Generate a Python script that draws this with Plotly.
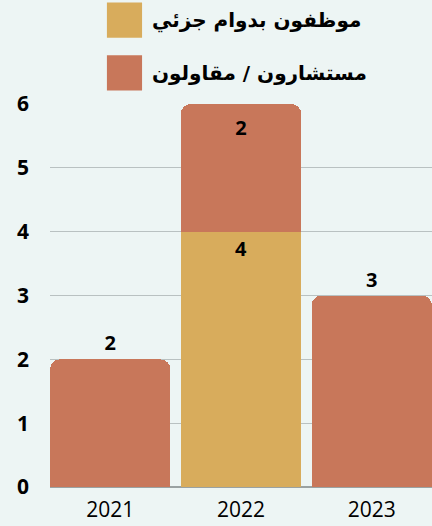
import plotly.graph_objects as go

years = ["2021", "2022", "2023"]
part_time = [0, 4, 0]
contractors = [2, 2, 3]
series_names = ["موظفون بدوام جزئي", "مستشارون / مقاولون"]
series_colors = ["#D8AC5C", "#C8775A"]

bg = "#EDF5F4"


def labels(vals):
    return [str(v) if v else "" for v in vals]


label_font = dict(family="Open Sans", size=20, color="black", weight="bold")

fig = go.Figure()
fig.add_trace(go.Bar(
    x=years, y=part_time, name=series_names[0],
    marker=dict(color=series_colors[0], line=dict(width=0)),
    text=labels(part_time), textposition="inside", insidetextanchor="end",
    textfont=label_font, constraintext="none",
    showlegend=False,
))
fig.add_trace(go.Bar(
    x=years, y=contractors, name=series_names[1],
    marker=dict(color=series_colors[1], line=dict(width=0)),
    text=labels(contractors), textposition=["outside", "inside", "outside"],
    insidetextanchor="end", textfont=label_font, constraintext="none",
    cliponaxis=False, showlegend=False,
))

# hand-drawn legend with big swatches (paper coords, plot area 104..487 px tall)
rows_y = [1.219, 1.081]
for name, color, yc in zip(series_names, series_colors, rows_y):
    fig.add_shape(type="rect", xref="paper", yref="paper",
                  x0=0.149, x1=0.241, y0=yc - 0.046, y1=yc + 0.046,
                  fillcolor=color, line=dict(width=0))
    fig.add_annotation(text=name, xref="paper", yref="paper", x=0.262, y=yc,
                       xanchor="left", yanchor="middle", showarrow=False,
                       font=dict(family="DejaVu Sans", size=20,
                                 color="black", weight="bold"))

fig.update_layout(
    width=432, height=526,
    margin=dict(l=50, r=0, t=104, b=39, autoexpand=False),
    barmode="stack", bargap=0.08, barcornerradius=10,
    paper_bgcolor=bg, plot_bgcolor=bg,
)
fig.update_xaxes(
    range=[-0.46, 2.46], showgrid=False, ticks="", automargin=False,
    tickfont=dict(family="Open Sans", size=21, color="black"),
    ticklabelstandoff=8, showline=False,
)
fig.update_yaxes(
    range=[0, 6], dtick=1, showgrid=True, gridcolor="#B9C1C1", gridwidth=1,
    zeroline=True, zerolinecolor="#9AA2A2", zerolinewidth=1.5, automargin=False,
    tickfont=dict(family="Open Sans", size=21, color="black", weight="bold"),
    ticklabelstandoff=20,
)

# drop the default page margin so the figure sits at the window's corner
fig.write_html("out.html", config={"displayModeBar": False},
               post_script="document.body.style.margin='0';")
